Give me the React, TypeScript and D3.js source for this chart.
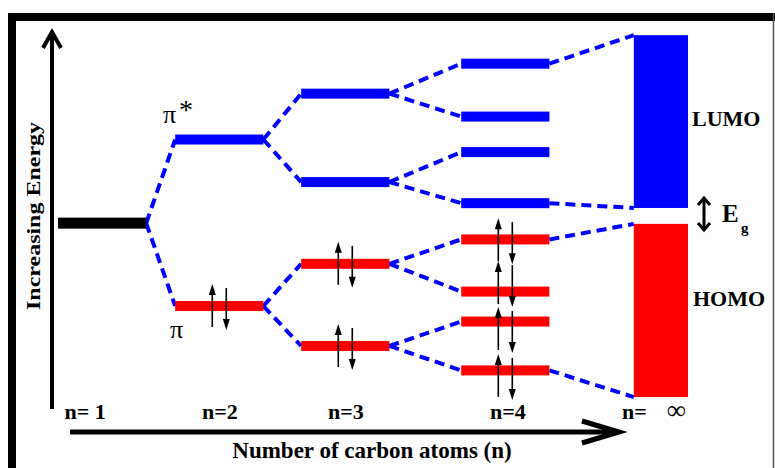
import * as d3 from "d3";

// columns: n = 1, 2, 3, 4, infinity
const columns = ["1", "2", "3", "4", "inf"];
const columnStart = [0, 0.186, 0.386, 0.64, 0.914];
const columnLabels = ["n= 1", "n=2", "n=3", "n=4"];
const columnLabelX = [0.043, 0.257, 0.457, 0.714];

// energy levels (relative energy, 0..1)
const levelIds = ["n1", "pS", "p", "3b1", "3b2", "3r1", "3r2", "4b1", "4b2", "4b3", "4b4", "4r1", "4r2", "4r3", "4r4"];
const levelColumn = [0, 1, 1, 2, 2, 2, 2, 3, 3, 3, 3, 3, 3, 3, 3];
const levelEnergy = [0.478, 0.704, 0.254, 0.828, 0.589, 0.368, 0.146, 0.909, 0.766, 0.67, 0.532, 0.434, 0.293, 0.212, 0.08];
const levelKind = ["core", "empty", "filled", "empty", "empty", "filled", "filled", "empty", "empty", "empty", "empty", "filled", "filled", "filled", "filled"];

// bands at n = infinity
const lumoBand = [0.519, 0.986];
const homoBand = [0.008, 0.476];

// splitting links
const links: [string, string][] = [
  ["n1", "pS"], ["n1", "p"],
  ["pS", "3b1"], ["pS", "3b2"], ["p", "3r1"], ["p", "3r2"],
  ["3b1", "4b1"], ["3b1", "4b2"], ["3b2", "4b3"], ["3b2", "4b4"],
  ["3r1", "4r1"], ["3r1", "4r2"], ["3r2", "4r3"], ["3r2", "4r4"],
];
const bandLinks: [string, number][] = [
  ["4b1", lumoBand[1]], ["4b4", lumoBand[0]],
  ["4r1", homoBand[1]], ["4r4", homoBand[0]],
];

// electron pairs (column, energy)
const pairColumn = [1, 2, 2, 3, 3, 3, 3];
const pairEnergy = [0.254, 0.368, 0.146, 0.432, 0.316, 0.192, 0.065];

const W = 775;
const H = 468;
const levelW = 0.14;
const bandW = 0.086;
const font = "'Liberation Serif', 'Times New Roman', 'DejaVu Serif', serif";

const colors: Record<string, string> = { core: "#000000", empty: "#0000ff", filled: "#ff0000" };

const App = () => {
  const x = d3.scaleLinear().domain([0, 1]).range([58, 688]);
  const y = d3.scaleLinear().domain([0, 1]).range([400, 30]);

  const lvl = (id: string) => {
    const i = levelIds.indexOf(id);
    const x0 = x(columnStart[levelColumn[i]]);
    const x1 = x(columnStart[levelColumn[i]] + levelW);
    return { x0, x1, y: y(levelEnergy[i]) };
  };

  const bx0 = x(columnStart[4]);
  const bx1 = x(columnStart[4] + bandW);

  const upArrow = (cx: number, cy: number) => `M${cx},${cy - 22}L${cx - 3.5},${cy - 11}L${cx + 3.5},${cy - 11}Z`;
  const downArrow = (cx: number, cy: number) => `M${cx},${cy + 24}L${cx - 3.5},${cy + 13}L${cx + 3.5},${cy + 13}Z`;

  return (
    <svg
      width={W}
      height={H}
      style={{ position: "absolute", left: 0, top: 0, background: "#fdfdfd" }}
    >
      {/* frame */}
      <line x1={8} x2={W} y1={17} y2={17} stroke="#000" strokeWidth={8} />
      <line x1={12} x2={12} y1={13} y2={H} stroke="#000" strokeWidth={8} />
      <line x1={773.5} x2={773.5} y1={13} y2={H} stroke="#555" strokeWidth={1.5} />

      {/* energy axis */}
      <line x1={52} x2={52} y1={409} y2={31} stroke="#000" strokeWidth={4} />
      <polyline points="43,48 52,32 61,48" fill="none" stroke="#000" strokeWidth={4} />
      <text
        transform="translate(40,216) rotate(-90)"
        textAnchor="middle"
        fontFamily={font}
        fontWeight="bold"
        fontSize={18}
        textLength={188}
        lengthAdjust="spacingAndGlyphs"
      >
        Increasing Energy
      </text>

      {/* n axis */}
      <line x1={70} x2={618} y1={432} y2={432} stroke="#000" strokeWidth={5} />
      <polyline points="582,421 619,432 582,443" fill="none" stroke="#000" strokeWidth={5} />
      <text x={372} y={458} textAnchor="middle" fontFamily={font} fontWeight="bold" fontSize={23}>
        Number of carbon atoms (n)
      </text>

      {columnLabels.map((t, i) => (
        <text key={t} x={x(columnLabelX[i])} y={419} textAnchor="middle" fontFamily={font} fontWeight="bold" fontSize={22}>
          {t}
        </text>
      ))}
      <text x={622} y={419} fontFamily={font} fontSize={22}>
        <tspan fontWeight="bold">n=</tspan>
        <tspan dx={20} fontSize={27}>∞</tspan>
      </text>

      {/* dashed links */}
      {links.map(([a, b]) => {
        const p = lvl(a);
        const q = lvl(b);
        return (
          <line key={a + b} x1={p.x1} y1={p.y} x2={q.x0} y2={q.y} stroke="#0000ff" strokeWidth={4} strokeDasharray="10,6" />
        );
      })}
      {bandLinks.map(([a, e]) => {
        const p = lvl(a);
        return (
          <line key={a + e} x1={p.x1} y1={p.y} x2={bx0} y2={y(e)} stroke="#0000ff" strokeWidth={4} strokeDasharray="10,6" />
        );
      })}

      {/* levels */}
      {levelIds.map((id, i) => {
        const p = lvl(id);
        const h = levelKind[i] === "core" ? 11 : 10;
        return <rect key={id} x={p.x0} y={p.y - h / 2} width={p.x1 - p.x0} height={h} fill={colors[levelKind[i]]} />;
      })}

      {/* bands */}
      <rect x={bx0} y={y(lumoBand[1])} width={bx1 - bx0} height={y(lumoBand[0]) - y(lumoBand[1])} fill="#0000ff" />
      <rect x={bx0} y={y(homoBand[1])} width={bx1 - bx0} height={y(homoBand[0]) - y(homoBand[1])} fill="#ff0000" />

      {/* electrons */}
      {pairEnergy.map((e, i) => {
        const c = pairColumn[i];
        const cx = x(columnStart[c] + levelW / 2);
        const cy = y(e);
        return (
          <g key={i}>
            <line x1={cx - 7} x2={cx - 7} y1={cy + 21} y2={cy - 13} stroke="#000" strokeWidth={1.6} />
            <path d={upArrow(cx - 7, cy)} fill="#000" />
            <line x1={cx + 7} x2={cx + 7} y1={cy - 18} y2={cy + 15} stroke="#000" strokeWidth={1.6} />
            <path d={downArrow(cx + 7, cy)} fill="#000" />
          </g>
        );
      })}

      {/* labels */}
      <text x={163} y={123} fontFamily={font} fontSize={26}>π</text>
      <text x={179} y={119} fontFamily={font} fontSize={28}>*</text>
      <text x={170} y={338} fontFamily={font} fontSize={26}>π</text>

      <text x={692} y={126} fontFamily={font} fontWeight="bold" fontSize={22}>LUMO</text>
      <text x={693} y={306} fontFamily={font} fontWeight="bold" fontSize={22}>HOMO</text>

      {/* band gap */}
      <line x1={704} x2={704} y1={199} y2={229} stroke="#000" strokeWidth={3} />
      <polyline points="698,205 704,198 710,205" fill="none" stroke="#000" strokeWidth={3} />
      <polyline points="698,223 704,230 710,223" fill="none" stroke="#000" strokeWidth={3} />
      <text x={722} y={222} fontFamily={font} fontWeight="bold" fontSize={25}>E</text>
      <text x={741} y={233} fontFamily={font} fontWeight="bold" fontSize={15}>g</text>
    </svg>
  );
};

export default App;
